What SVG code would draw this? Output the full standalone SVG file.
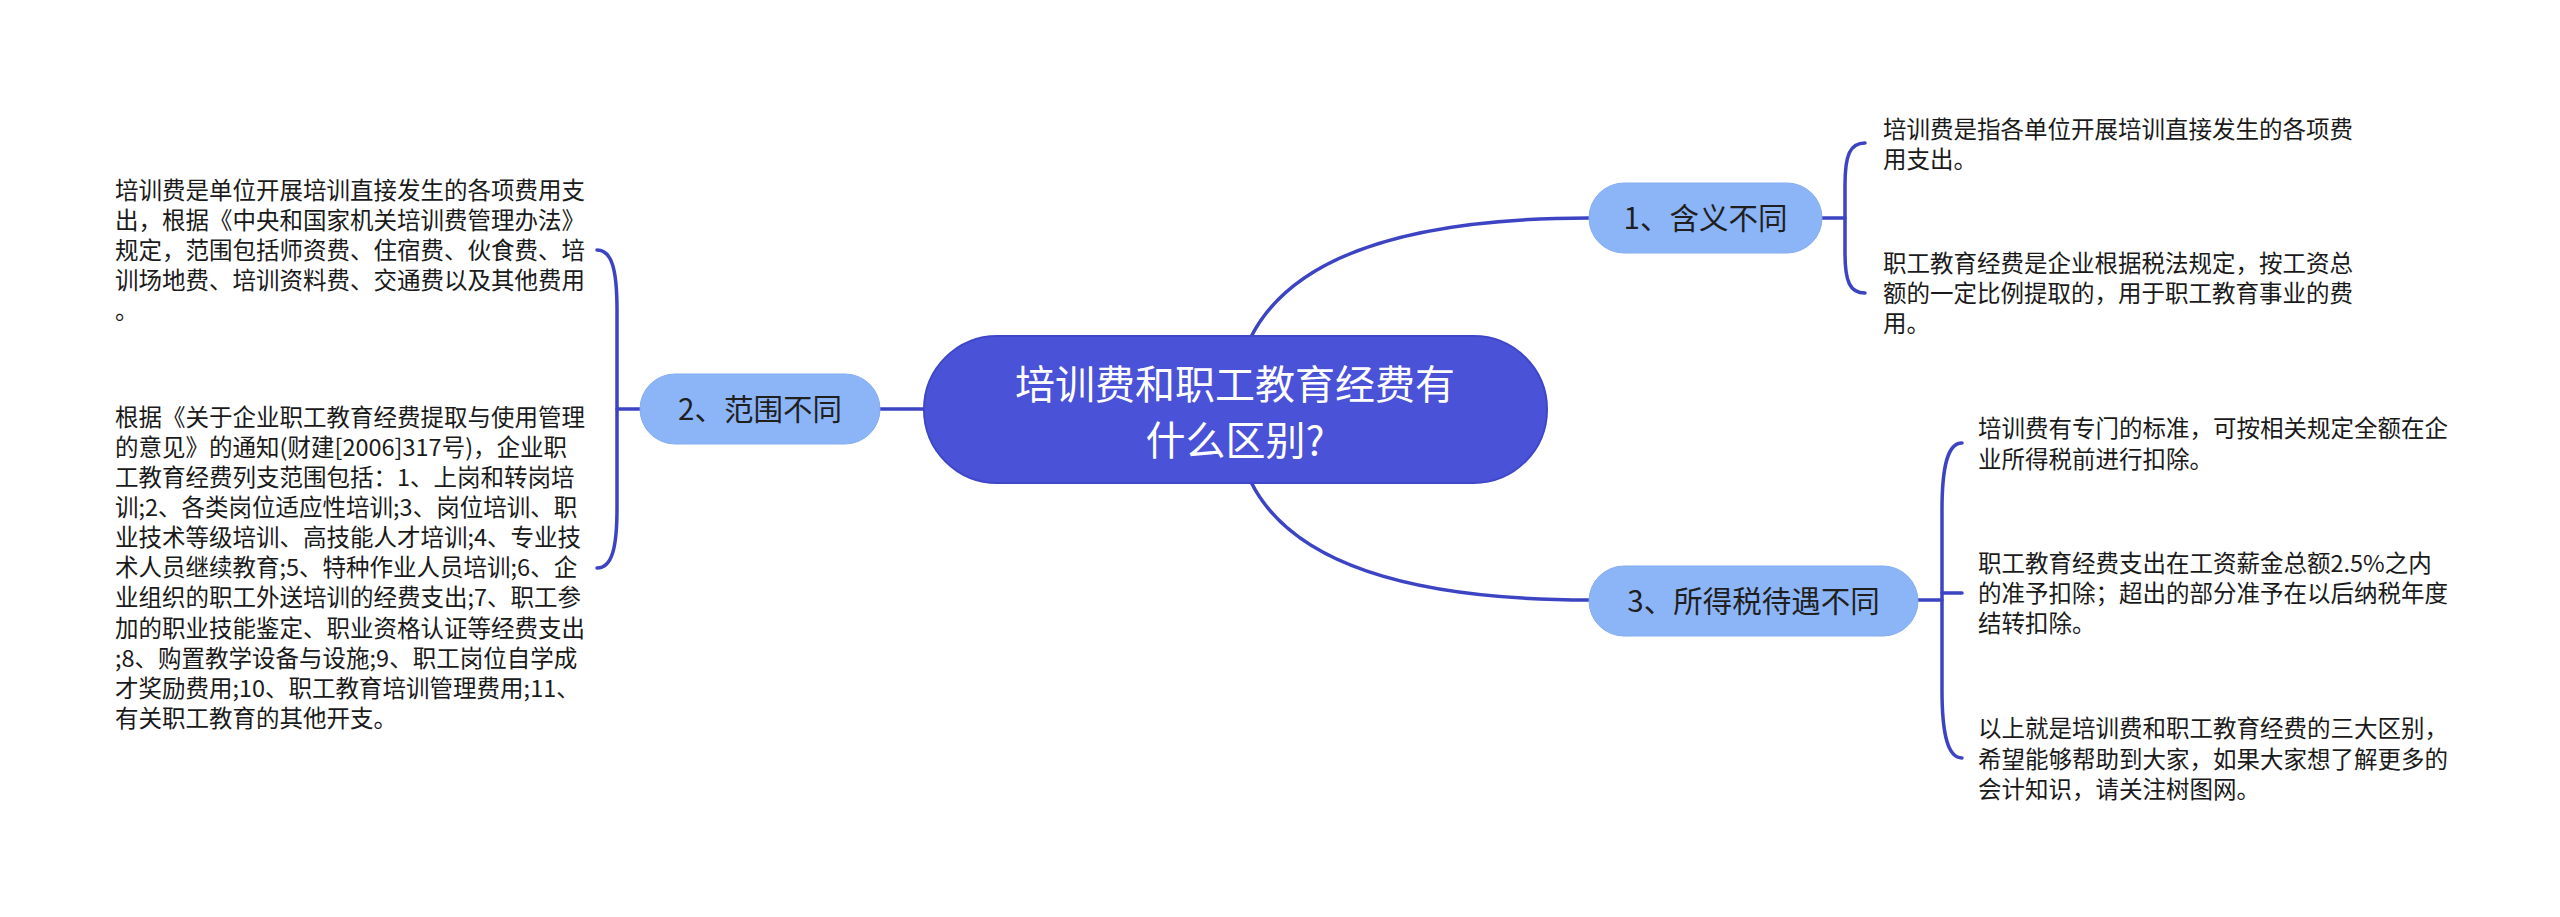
<svg xmlns="http://www.w3.org/2000/svg" width="2560" height="917" viewBox="0 0 2560 917">
<style>
.conn{fill:none;stroke:#3c44c4;stroke-width:3.5;stroke-linecap:round}
.main{fill:#4a52d8;stroke:#3f47c8;stroke-width:2}
.sub{fill:#8cb5f8;stroke:#84acf0;stroke-width:1}
.mt{font-family:"Noto Sans CJK SC","Noto Sans",sans-serif;font-size:40px;fill:#ffffff;text-anchor:middle}
.st{font-family:"Noto Sans CJK SC","Noto Sans",sans-serif;font-size:29.5px;fill:#1f1f1f;text-anchor:middle}
.lt{font-family:"Noto Sans CJK SC","Noto Sans",sans-serif;font-size:23.5px;fill:#1a1a1a}
</style>
<rect width="2560" height="917" fill="#ffffff"/>
<g id="connectors">
<path class="conn" d="M1251 337 C1290 260 1400 218 1589 218"/>
<path class="conn" d="M1251 482 C1290 560 1400 600 1589 600"/>
<path class="conn" d="M880 409 L925 409"/>
<path class="conn" d="M1822 218 L1845 218"/>
<path class="conn" d="M1865 143 C1850 143 1845 155 1845 185 L1845 253 C1845 282 1850 293 1865 293"/>
<path class="conn" d="M617 409 L640 409"/>
<path class="conn" d="M597 250 C612 250 617 270 617 310 L617 508 C617 548 612 568 597 568"/>
<path class="conn" d="M1918 600 L1942 600"/>
<path class="conn" d="M1942 593 L1962 593"/>
<path class="conn" d="M1962 443 C1948 443 1942 465 1942 510 L1942 690 C1942 735 1948 758 1962 758"/>
</g>
<g id="root">
<rect class="main" x="924" y="336" width="623" height="147" rx="73.5"/>
<text class="mt" x="1235" y="399">培训费和职工教育经费有</text>
<text class="mt" x="1235" y="455">什么区别?</text>
</g>
<g id="node1">
<rect class="sub" x="1589" y="183" width="233" height="70" rx="35"/>
<text class="st" x="1705.5" y="229">1、含义不同</text>
</g>
<g id="node2">
<rect class="sub" x="640" y="374" width="240" height="70" rx="35"/>
<text class="st" x="760" y="420">2、范围不同</text>
</g>
<g id="node3">
<rect class="sub" x="1589" y="566" width="329" height="70" rx="35"/>
<text class="st" x="1753.5" y="612">3、所得税待遇不同</text>
</g>
<g id="leaf1a">
<text class="lt" x="1883" y="138">培训费是指各单位开展培训直接发生的各项费</text>
<text class="lt" x="1883" y="168">用支出。</text>
</g>
<g id="leaf1b">
<text class="lt" x="1883" y="272">职工教育经费是企业根据税法规定，按工资总</text>
<text class="lt" x="1883" y="302">额的一定比例提取的，用于职工教育事业的费</text>
<text class="lt" x="1883" y="332">用。</text>
</g>
<g id="leaf2a">
<text class="lt" x="115" y="199">培训费是单位开展培训直接发生的各项费用支</text>
<text class="lt" x="115" y="229">出，根据《中央和国家机关培训费管理办法》</text>
<text class="lt" x="115" y="259">规定，范围包括师资费、住宿费、伙食费、培</text>
<text class="lt" x="115" y="289">训场地费、培训资料费、交通费以及其他费用</text>
<text class="lt" x="115" y="319">。</text>
</g>
<g id="leaf2b">
<text class="lt" x="115" y="426">根据《关于企业职工教育经费提取与使用管理</text>
<text class="lt" x="115" y="456">的意见》的通知(财建[2006]317号)，企业职</text>
<text class="lt" x="115" y="486">工教育经费列支范围包括：1、上岗和转岗培</text>
<text class="lt" x="115" y="516">训;2、各类岗位适应性培训;3、岗位培训、职</text>
<text class="lt" x="115" y="546">业技术等级培训、高技能人才培训;4、专业技</text>
<text class="lt" x="115" y="576">术人员继续教育;5、特种作业人员培训;6、企</text>
<text class="lt" x="115" y="606">业组织的职工外送培训的经费支出;7、职工参</text>
<text class="lt" x="115" y="637">加的职业技能鉴定、职业资格认证等经费支出</text>
<text class="lt" x="115" y="667">;8、购置教学设备与设施;9、职工岗位自学成</text>
<text class="lt" x="115" y="697">才奖励费用;10、职工教育培训管理费用;11、</text>
<text class="lt" x="115" y="727">有关职工教育的其他开支。</text>
</g>
<g id="leaf3a">
<text class="lt" x="1978" y="437">培训费有专门的标准，可按相关规定全额在企</text>
<text class="lt" x="1978" y="468">业所得税前进行扣除。</text>
</g>
<g id="leaf3b">
<text class="lt" x="1978" y="572">职工教育经费支出在工资薪金总额2.5%之内</text>
<text class="lt" x="1978" y="602">的准予扣除；超出的部分准予在以后纳税年度</text>
<text class="lt" x="1978" y="632">结转扣除。</text>
</g>
<g id="leaf3c">
<text class="lt" x="1978" y="737">以上就是培训费和职工教育经费的三大区别，</text>
<text class="lt" x="1978" y="768">希望能够帮助到大家，如果大家想了解更多的</text>
<text class="lt" x="1978" y="798">会计知识，请关注树图网。</text>
</g>
</svg>
